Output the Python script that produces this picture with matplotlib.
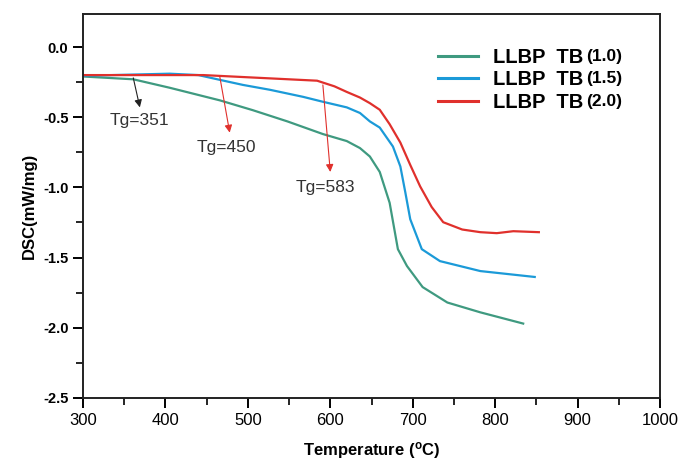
import numpy as np
import matplotlib
matplotlib.use("Agg")
import matplotlib.pyplot as plt
from matplotlib.ticker import MultipleLocator

plt.rcParams['font.family'] = ['Liberation Sans', 'DejaVu Sans']

# data
green_x = [300, 361, 405, 466, 506, 548, 591, 620, 636, 648, 660, 672, 682, 693, 712, 742, 782, 834]
green_y = [-0.21, -0.23, -0.29, -0.38, -0.45, -0.53, -0.62, -0.67, -0.72, -0.78, -0.89, -1.11, -1.44, -1.56, -1.71, -1.82, -1.89, -1.97]

blue_x = [300, 405, 440, 466, 494, 527, 567, 591, 620, 636, 648, 660, 676, 685, 691, 697, 711, 733, 782, 848]
blue_y = [-0.205, -0.19, -0.20, -0.234, -0.27, -0.305, -0.355, -0.39, -0.43, -0.47, -0.53, -0.574, -0.709, -0.851, -1.035, -1.227, -1.44, -1.525, -1.596, -1.638]

red_x = [300, 446, 584, 605, 620, 636, 648, 660, 672, 685, 697, 709, 723, 737, 760, 782, 802, 822, 853]
red_y = [-0.20, -0.20, -0.24, -0.28, -0.32, -0.36, -0.40, -0.447, -0.55, -0.681, -0.84, -0.993, -1.14, -1.248, -1.30, -1.319, -1.326, -1.312, -1.319]

series = [(green_x, green_y, '#3f9a80', '(1.0)'),
          (blue_x, blue_y, '#1b9ad8', '(1.5)'),
          (red_x, red_y, '#e0302c', '(2.0)')]

# Tg annotations: label, arrow tail, arrow head, text centre, colour
tg_labels = ['Tg=351', 'Tg=450', 'Tg=583']
tg_tail = [(361, -0.22), (466, -0.213), (591, -0.27)]
tg_head = [(369, -0.43), (478, -0.61), (600, -0.89)]
tg_text = [(369, -0.52), (474, -0.715), (594, -1.00)]
tg_color = ['#222222', '#e0302c', '#e0302c']

fig = plt.figure(figsize=(6.78, 4.61), dpi=100)
ax = fig.add_axes([0.1224, 0.1367, 0.8511, 0.8329])

lines = []
for x, y, c, tag in series:
    ln, = ax.plot(x, y, color=c, lw=1.6)
    lines.append(ln)

for lab, t0, t1, tp, c in zip(tg_labels, tg_tail, tg_head, tg_text, tg_color):
    ax.annotate('', xy=t1, xytext=t0,
                arrowprops=dict(arrowstyle='-|>', color=c, lw=0.8,
                                mutation_scale=11, shrinkA=0, shrinkB=0))
    ax.text(tp[0], tp[1], lab, ha='center', va='center', fontsize=12.5, color='#333333')

ax.set_xlim(300, 1000)
ax.set_ylim(-2.5, 0.235)
ax.xaxis.set_major_locator(MultipleLocator(100))
ax.xaxis.set_minor_locator(MultipleLocator(50))
ax.yaxis.set_major_locator(MultipleLocator(0.5))
ax.yaxis.set_minor_locator(MultipleLocator(0.25))
ax.tick_params(which='major', direction='out', length=7, width=1.4, labelsize=12)
ax.tick_params(which='minor', direction='out', length=5, width=1.2)
ax.tick_params(axis='y', labelsize=10.5)
for t in ax.get_yticklabels():
    t.set_fontweight('bold')
ax.yaxis.set_major_formatter(matplotlib.ticker.FormatStrFormatter('%.1f'))
for s in ax.spines.values():
    s.set_linewidth(1.4)
    s.set_color('#222222')

ax.set_xlabel(r'Temperature ($\mathregular{^{o}}$C)', fontsize=12, fontweight='bold', labelpad=9)
ax.set_ylabel('DSC(mW/mg)', fontsize=12, fontweight='bold', labelpad=4)

leg = ax.legend(lines, ['LLBP  TB'] * 3, loc='upper left', bbox_to_anchor=(0.615, 0.912),
                frameon=False, borderpad=0, borderaxespad=0, prop={'size': 14.5, 'weight': 'bold'},
                handlelength=2.0, handletextpad=0.75, labelspacing=0.17)
for lh in leg.get_lines():
    lh.set_linewidth(2.2)

fig.canvas.draw()
inv = fig.transFigure.inverted()
for t, (_, _, _, tag) in zip(leg.get_texts(), series):
    bb = t.get_window_extent()
    px, py = inv.transform((bb.x1 + 3, bb.y0 + 0.55 * bb.height))
    fig.text(px, py, tag, fontsize=12.5, fontweight='bold', ha='left', va='center')

fig.savefig('out.png', dpi=100)
